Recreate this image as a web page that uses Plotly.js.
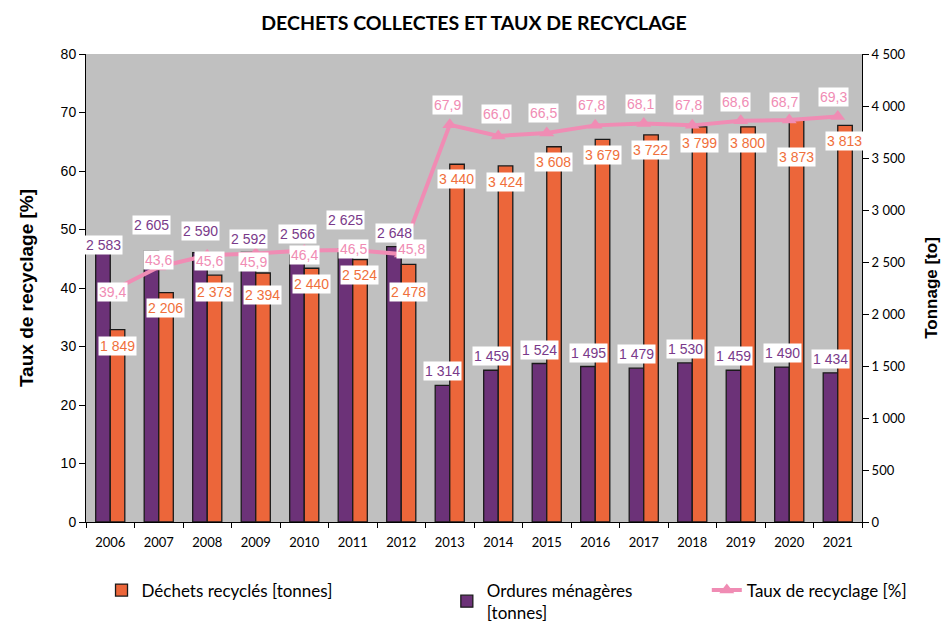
<!DOCTYPE html>
<html>
<head>
<meta charset="utf-8">
<script src="https://cdn.plot.ly/plotly-3.0.1.min.js"></script>
<style>html,body{margin:0;padding:0;background:#fff}#chart{width:948px;height:623px}</style>
</head>
<body>
<div id="chart"></div>
<script>
// ---- data ----
const years = ['2006','2007','2008','2009','2010','2011','2012','2013','2014','2015','2016','2017','2018','2019','2020','2021'];
const dechetsRecycles = [1849,2206,2373,2394,2440,2524,2478,3440,3424,3608,3679,3722,3799,3800,3873,3813];
const orduresMenageres = [2583,2605,2590,2592,2566,2625,2648,1314,1459,1524,1495,1479,1530,1459,1490,1434];
const tauxRecyclage = [39.4,43.6,45.6,45.9,46.4,46.5,45.8,67.9,66.0,66.5,67.8,68.1,67.8,68.6,68.7,69.3];

// ---- label placement (pixel offsets, screen: + = down) ----
const purpleLabelDy = [-8,-26,-22,-13,-21,-29,-14,-14,-14,-14,-14,-14,-14,-14,-14,-14];
const orangeLabelDy = [16,15,17,22,16,15,28,15,16,15,16,15,16,16,38,16];
const tauxLabelDy = [0,-7,6,9,4,-1,-5,-20,-22,-20,-20,-20,-20,-19,-18,-20];
const tauxLabelDx = [2,0,2,-2,0,1,10,-2,-2,-3,-4,-3,-4,-5,-5,-4];

const PURPLE = '#6C3278', ORANGE = '#EC663A', PINK = '#F08CB4';
const fmtT = v => String(v).replace(/\B(?=(\d{3})+(?!\d))/g, ' ');
const fmtP = v => v.toFixed(1).replace('.', ',');

const traces = [
  {type:'bar', name:'Ordures ménagères<br>[tonnes]', x:years, y:orduresMenageres, yaxis:'y',
   marker:{color:PURPLE, line:{color:'#1a1a1a', width:1.3}}, legend:'legend2', hoverinfo:'x+y'},
  {type:'bar', name:'Déchets recyclés [tonnes]', x:years, y:dechetsRecycles, yaxis:'y',
   marker:{color:ORANGE, line:{color:'#1a1a1a', width:1.3}}, legend:'legend', hoverinfo:'x+y'},
  {type:'scatter', mode:'lines+markers', name:'Taux de recyclage [%]', x:years, y:tauxRecyclage, yaxis:'y2',
   line:{color:PINK, width:4}, marker:{symbol:'triangle-up', size:13, color:PINK}, legend:'legend3'}
];

const annotations = [];
const labelFont = {family:'"Liberation Sans", Arial, sans-serif', size:14};
years.forEach((yr, i) => {
  // category axis: annotation x given as the category's serial index
  annotations.push({x:i, y:orduresMenageres[i], xref:'x', yref:'y', text:fmtT(orduresMenageres[i]),
    showarrow:false, xshift:-7, yshift:-purpleLabelDy[i], bgcolor:'#fff', borderpad:1,
    font:Object.assign({color:'#7A3A8A'}, labelFont)});
  annotations.push({x:i, y:dechetsRecycles[i], xref:'x', yref:'y', text:fmtT(dechetsRecycles[i]),
    showarrow:false, xshift:7, yshift:-orangeLabelDy[i], bgcolor:'#fff', borderpad:1,
    font:Object.assign({color:'#F0703C'}, labelFont)});
  annotations.push({x:i, y:tauxRecyclage[i], xref:'x', yref:'y2', text:fmtP(tauxRecyclage[i]),
    showarrow:false, xshift:tauxLabelDx[i], yshift:-tauxLabelDy[i], bgcolor:'#fff', borderpad:1,
    font:Object.assign({color:'#F08CB4'}, labelFont)});
});

const calib = 'Lato, "Open Sans", sans-serif';
const arial = '"Liberation Sans", Arial, sans-serif';
const legendBase = {orientation:'h', yanchor:'top', y:-0.108, xanchor:'left', bgcolor:'rgba(0,0,0,0)',
  font:{family:calib, size:17, color:'#000'}};

const layout = {
  width:948, height:623,
  margin:{l:86, r:86, t:54, b:101, pad:0, autoexpand:false},
  paper_bgcolor:'#fff', plot_bgcolor:'#C0C0C0',
  separators:', ',
  title:{text:'DECHETS COLLECTES ET TAUX DE RECYCLAGE', x:0.5, xref:'paper', y:0.963, yanchor:'middle',
    font:{family:calib, size:19.5, color:'#000', weight:'bold'}},
  barmode:'group', bargap:0.4, bargroupgap:0,
  xaxis:{type:'category', categoryorder:'array', categoryarray:years, range:[-0.5, years.length-0.5],
    showline:true, linecolor:'#000', linewidth:1,
    ticks:'outside', tickson:'boundaries', ticklen:5, tickcolor:'#000', tickangle:0, ticklabelstandoff:8,
    tickfont:{family:calib, size:13, color:'#000'}, showgrid:false, zeroline:false},
  yaxis:{side:'right', range:[0,4500], dtick:500, tickformat:',d', showline:true, linecolor:'#000', linewidth:1,
    ticks:'outside', ticklen:6, tickcolor:'#000', showgrid:false, zeroline:false,
    tickfont:{family:calib, size:13, color:'#000'},
    title:{text:'Tonnage [to]', standoff:20, font:{family:arial, size:17, color:'#000', weight:'bold'}}},
  yaxis2:{overlaying:'y', side:'left', range:[0,80], dtick:10, showline:true, linecolor:'#000', linewidth:1,
    ticks:'outside', ticklen:6, tickcolor:'#000', showgrid:false, zeroline:false,
    tickfont:{family:arial, size:14, color:'#000'},
    title:{text:'Taux de recyclage [%]', standoff:21, font:{family:arial, size:19, color:'#000', weight:'bold'}}},
  legend:Object.assign({}, legendBase, {x:0.02}),
  legend2:Object.assign({}, legendBase, {x:0.465}),
  legend3:Object.assign({}, legendBase, {x:0.8}),
  annotations:annotations,
  showlegend:true
};

Plotly.newPlot('chart', traces, layout, {displayModeBar:false, staticPlot:true});
</script>
</body>
</html>
